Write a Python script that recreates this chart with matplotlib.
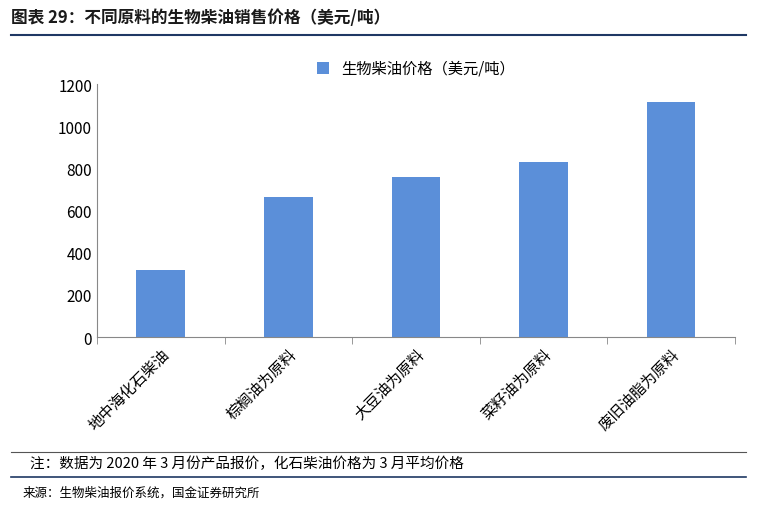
import matplotlib
matplotlib.use("Agg")
import matplotlib.pyplot as plt
from matplotlib.lines import Line2D

plt.rcParams['font.family'] = ['Noto Sans CJK SC', 'DejaVu Sans']

categories = ["地中海化石柴油", "棕榈油为原料", "大豆油为原料", "菜籽油为原料", "废旧油脂为原料"]
prices = [320, 665, 760, 830, 1115]
series_name = "生物柴油价格（美元/吨）"
title = "图表 29：不同原料的生物柴油销售价格（美元/吨）"
note = "注：数据为 2020 年 3 月份产品报价，化石柴油价格为 3 月平均价格"
source = "来源：生物柴油报价系统，国金证券研究所"

fig = plt.figure(figsize=(7.57, 5.1), dpi=100)
ax = fig.add_axes([0.128, 0.337, 0.843, 0.496])
ax.bar(categories, prices, width=0.38, color="#5B8FD9", label=series_name)
ax.set_ylim(0, 1200)
ax.set_yticks(range(0, 1201, 200))
ax.tick_params(axis='y', length=0, labelsize=11)
ax.set_xticks(range(len(categories)))
ax.set_xticklabels(categories, rotation=45, ha='right', rotation_mode='anchor', fontsize=11)
ax.set_xticks([i + 0.5 for i in range(-1, len(categories))], minor=True)
ax.tick_params(axis='x', which='major', length=0, pad=6)
ax.tick_params(axis='x', which='minor', length=5, color="#888888")
ax.set_xlim(-0.5, len(categories) - 0.5)
for s in ['top', 'right']:
    ax.spines[s].set_visible(False)
ax.spines['left'].set_color("#888888")
ax.spines['bottom'].set_color("#888888")
ax.legend(loc='upper center', bbox_to_anchor=(0.5, 1.15), frameon=False, fontsize=11,
          handlelength=0.8, handleheight=0.8)

fig.text(0.015, 0.955, title, fontsize=12, fontweight='bold', fontstyle='italic', color="#1a1a1a")
fig.add_artist(Line2D([0.015, 0.985], [0.93, 0.93], color="#1F3864", lw=1.5))
fig.add_artist(Line2D([0.015, 0.985], [0.112, 0.112], color="#555555", lw=0.8))
fig.text(0.04, 0.09, note, fontsize=10.5, va='center')
fig.add_artist(Line2D([0.015, 0.985], [0.062, 0.062], color="#1F3864", lw=1.2))
fig.text(0.03, 0.033, source, fontsize=9, va='center')
fig.savefig("out.png", dpi=100)
